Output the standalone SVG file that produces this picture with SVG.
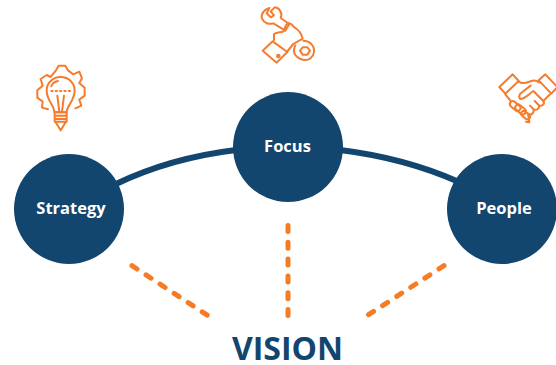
<svg xmlns="http://www.w3.org/2000/svg" width="556" height="365" viewBox="0 0 556 365">
<style>
.n{fill:#13466f}
.l{font-family:"Open Sans","Liberation Sans",sans-serif;font-weight:700;font-size:16.500px;fill:#fff;text-anchor:middle}
.c{fill:none;stroke:#13466f;stroke-width:6}
.d{fill:none;stroke:#f57b25;stroke-width:5;stroke-linecap:round;stroke-dasharray:6 10.800}
.i{fill:none;stroke:#f47c2c;stroke-width:6;stroke-linejoin:round;stroke-linecap:round}
</style>
<rect width="556" height="365" fill="#fff"/>
<g id="connectors">
<path class="c" d="M116 184Q170 158 236 150"/>
<path class="c" d="M340 150Q405 158 459 182"/>
<path class="d" d="M132 265.700L208 315.700"/>
<path class="d" d="M288 225.500V316"/>
<path class="d" d="M444 265.700L367 315.700"/>
</g>
<g id="strategy"><circle class="n" cx="69" cy="209" r="55"/><text class="l" x="71" y="214">Strategy</text></g>
<g id="focus"><circle class="n" cx="288" cy="147" r="55"/><text class="l" x="287.500" y="152">Focus</text></g>
<g id="people"><circle class="n" cx="502" cy="209" r="55"/><text class="l" x="504" y="214">People</text></g>
<g id="vision"><text x="287.500" y="360" style="font-family:'Open Sans','Liberation Sans',sans-serif;font-weight:700;font-size:32px;fill:#13466f;text-anchor:middle">VISION</text></g>
<g id="icon-strategy" transform="translate(20 55) scale(.3333)">
<path class="i" d="M84 163L66 158L68 140L52 128V106L68 92L62 72L80 60L92 66L108 46L116 32H136L144 46L160 58L178 50L186 70L178 84L194 98V122L178 134L184 152L166 160"/>
<path class="i" d="M103 172C104 150 80 140 80 106C80 82 100 66 122 66C146 66 164 84 164 106C164 140 140 150 140 172Z"/>
<path class="i" d="M94 94C96 86 104 80 114 78"/>
<path class="i" stroke-dasharray="4 9" d="M94 108H150"/>
<path class="i" d="M112 122L118 170M132 122L126 170"/>
<path class="i" d="M104 172H140V200H104ZM104 182H140M104 192H140M106 200L122 226L138 200"/>
</g>
<g id="icon-focus" transform="translate(250 0) scale(.3333)">
<path class="i" d="M58 24C42 28 32 42 36 56C42 70 58 74 70 70L106 92L118 72L92 54C98 40 90 24 74 22L62 34L72 46L62 52L50 40Z"/>
<path class="i" d="M68 124L38 152L80 188L112 156Z"/>
<circle class="i" cx="85" cy="168" r="4"/>
<path class="i" d="M72 120V102C82 96 94 98 100 94C106 88 104 74 114 70C126 66 128 82 136 84C146 90 154 100 158 116L130 132L112 154"/>
<path class="i" d="M160 122C180 122 194 138 192 156C190 172 176 182 162 180C146 178 132 166 132 152C132 146 134 140 136 136"/>
<path class="i" d="M150 152L158 142L172 142L180 152L172 164L158 164Z"/>
</g>
<g id="icon-people" transform="translate(490 65) scale(.3333)">
<path class="i" d="M28 66L68 28L86 48L46 86Z"/>
<path class="i" d="M146 46L166 28L202 66L184 86Z"/>
<path class="i" d="M86 50C100 60 112 52 124 48C134 44 142 48 148 52M180 88L160 108L130 78C118 86 104 102 92 102C84 98 88 86 96 82L122 62"/>
<path class="i" d="M46 88L62 108M160 108C166 118 154 126 146 120L134 108M146 120C150 132 138 138 130 132L120 122M130 132C134 146 122 152 114 146M114 146L118 172L108 170"/>
<rect class="i" x="-16" y="-9" width="36" height="18" rx="9" transform="translate(74 122) rotate(40)"/>
<rect class="i" x="-16" y="-9" width="36" height="18" rx="9" transform="translate(90 132) rotate(40)"/>
<rect class="i" x="-14" y="-8" width="30" height="16" rx="8" transform="translate(106 150) rotate(40)"/>
</g>
</svg>
